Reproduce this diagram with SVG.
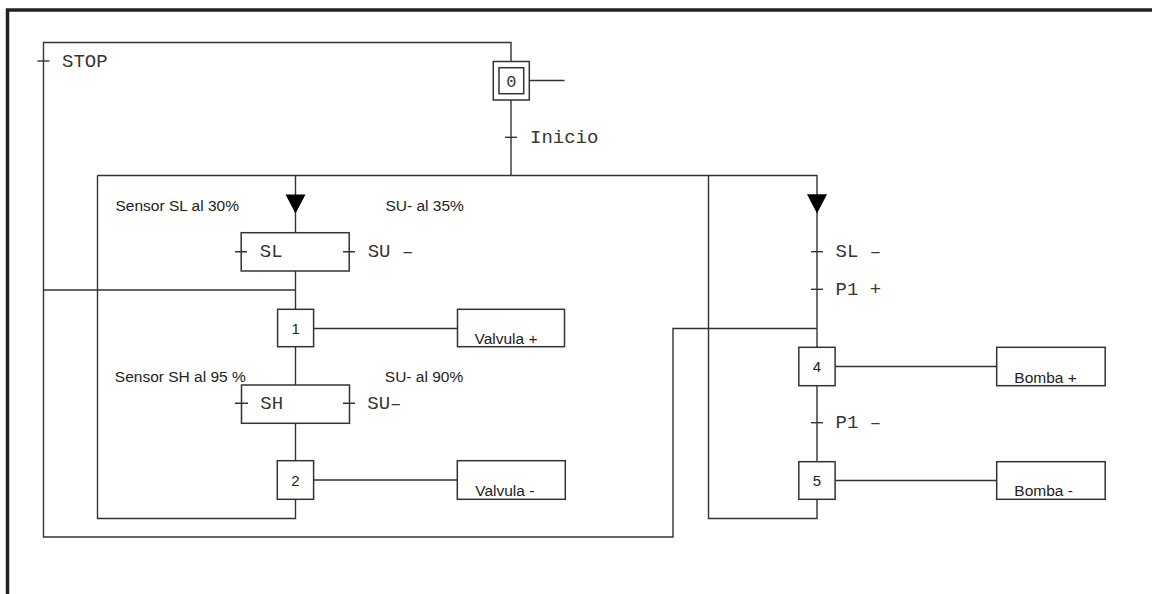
<svg xmlns="http://www.w3.org/2000/svg" width="1152" height="594" viewBox="0 0 1152 594">
<style>
.ln{fill:none;stroke:#333;stroke-width:1.4}
.bx{fill:#fff;stroke:#333;stroke-width:1.5}
.mono{font-family:"Liberation Mono","Courier New",monospace;font-size:19px;fill:#3a3530}
.sans{font-family:"Liberation Sans",Arial,sans-serif;font-size:15.5px;fill:#222}
.num{font-family:"Liberation Sans",Arial,sans-serif;font-size:15px;fill:#222;text-anchor:middle}
.arr{fill:#000}
</style>
<rect width="1152" height="594" fill="#fff"/>
<path id="frame" d="M7.5,594 V10 H1152" fill="none" stroke="#222" stroke-width="3.5"/>
<g id="connectors" class="ln">
<path d="M511,61.5 V42.5 H43.5 V537 H673 V328.5 H817"/>
<path d="M511,99.5 V175.5"/>
<path d="M97.5,175.5 H817 V347.5"/>
<path d="M295.5,175.5 V232.7"/>
<path d="M97.5,175.5 V518.5 H295.5 V499.3"/>
<path d="M43.5,290 H295.5"/>
<path d="M295.5,271 V309.3"/>
<path d="M295.5,346.7 V385"/>
<path d="M295.5,423.3 V460.7"/>
<path d="M313.6,328.5 H457.5"/>
<path d="M313.6,480 H457.3"/>
<path d="M835.1,366.5 H996.7"/>
<path d="M835.1,480.5 H996.7"/>
<path d="M708.5,175.5 V518.5 H817 V499.3"/>
<path d="M817,385.7 V461.7"/>
<path d="M529.3,80.5 H564.5"/>
<polygon class="arr" points="285.5,194.5 305.5,194.5 295.5,213.5" stroke="none"/>
<polygon class="arr" points="807,194.3 827,194.3 817,213.5" stroke="none"/>
</g>
<g id="t-stop"><path class="ln" d="M37.5,61 H49.5"/><text class="mono" x="62" y="66.5">STOP</text></g>
<g id="t-inicio"><path class="ln" d="M505,137.3 H517"/><text class="mono" x="530" y="142.7">Inicio</text></g>
<g id="step0">
<rect class="bx" x="493.3" y="61.5" width="36" height="38.5"/>
<rect class="bx" x="499" y="67.7" width="24.7" height="26"/>
<text class="mono" x="511.3" y="86.5" text-anchor="middle" style="font-size:17px">0</text>
</g>
<g id="c1"><text class="sans" x="115.5" y="210.7">Sensor SL al 30%</text><text class="sans" x="385.5" y="210.7">SU- al 35%</text></g>
<g id="t-sl">
<rect class="bx" x="241.2" y="232.7" width="108" height="38.3"/>
<path class="ln" d="M235,251.7 H247 M343,251.7 H355"/>
<text class="mono" x="259.8" y="257.3">SL</text>
<text class="mono" x="367.7" y="257.3">SU –</text>
</g>
<g id="step1"><rect class="bx" x="277.6" y="309.3" width="36" height="37.4"/><text class="num" x="295.6" y="334">1</text></g>
<g id="a1"><rect class="bx" x="457.5" y="309.3" width="107" height="37.4"/><text class="sans" x="474.5" y="344">Valvula +</text></g>
<g id="c2"><text class="sans" x="114.8" y="381.7">Sensor SH al 95 %</text><text class="sans" x="384.8" y="381.7">SU- al 90%</text></g>
<g id="t-sh">
<rect class="bx" x="241.5" y="385" width="108" height="38.3"/>
<path class="ln" d="M235,403.3 H248 M343,403.3 H355"/>
<text class="mono" x="260.3" y="408.5">SH</text>
<text class="mono" x="367.3" y="408.5">SU–</text>
</g>
<g id="step2"><rect class="bx" x="277.3" y="460.7" width="36.3" height="38.6"/><text class="num" x="295.5" y="485.8">2</text></g>
<g id="a2"><rect class="bx" x="457.3" y="460.7" width="108" height="38.6"/><text class="sans" x="475.2" y="496.3">Valvula -</text></g>
<g id="t-slm"><path class="ln" d="M811,251.7 H823"/><text class="mono" x="835.5" y="257">SL –</text></g>
<g id="t-p1p"><path class="ln" d="M811,289.3 H823"/><text class="mono" x="835.5" y="294.6">P1 +</text></g>
<g id="step4"><rect class="bx" x="798.8" y="347.3" width="36.3" height="38.4"/><text class="num" x="817" y="372.3">4</text></g>
<g id="a4"><rect class="bx" x="996.7" y="347.3" width="108.5" height="38.4"/><text class="sans" x="1014.3" y="382.7">Bomba +</text></g>
<g id="t-p1m"><path class="ln" d="M811,422.7 H823"/><text class="mono" x="835.5" y="428">P1 –</text></g>
<g id="step5"><rect class="bx" x="798.8" y="461.7" width="36.3" height="37.6"/><text class="num" x="817" y="486.3">5</text></g>
<g id="a5"><rect class="bx" x="996.7" y="461.7" width="108.5" height="37.6"/><text class="sans" x="1014.3" y="496.3">Bomba -</text></g>
</svg>
